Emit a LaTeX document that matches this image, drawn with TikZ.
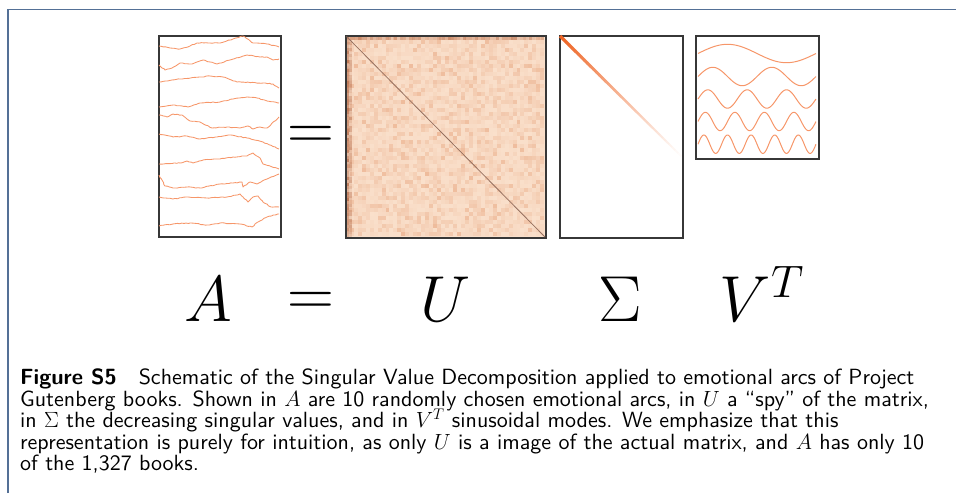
\RequirePackage{fix-cm}
\documentclass[tikz,border=0pt]{standalone}
\usepackage{fontspec}
\newfontfamily\capfont{lmsans10-regular}[Extension=.otf, BoldFont=lmsans10-bold, Ligatures=TeX]
\usetikzlibrary{decorations.pathmorphing}
\definecolor{frameblue}{RGB}{84,112,150}
\definecolor{arccol}{RGB}{246,150,105}
\definecolor{boxgray}{RGB}{55,55,55}
\definecolor{peachbase}{RGB}{250,224,203}
\definecolor{speck}{RGB}{230,160,120}
\definecolor{rust}{RGB}{178,100,64}
\definecolor{diagcol}{RGB}{150,112,95}
\definecolor{sigorange}{RGB}{238,100,35}
\tikzset{
  matbox/.style={draw=boxgray, line width=1.6pt, inner sep=0pt, anchor=north west},
  arcline/.style={arccol, line width=0.85pt, line join=round,
     decorate, decoration={random steps, segment length=2.2pt, amplitude=0.4pt}},
  wavy/.style={arccol, line width=1pt},
  bigmath/.style={font=\fontsize{65}{65}\selectfont, anchor=base, inner sep=0pt},
  capline/.style={anchor=base west, inner sep=0pt, text height=13pt, text depth=3pt,
     font=\fontsize{22}{21.5}\selectfont\capfont},
  framestyle/.style={frameblue, line width=1.5pt}
}
\begin{document}
\begin{tikzpicture}[x=1pt, y=-1pt]
\useasboundingbox (0,0) rectangle (956,493);
\pgfmathsetseed{12}
% frame
\draw[framestyle] (8,493) -- (8,9.5) -- (956,9.5);

% ---------- U texture ----------
\fill[peachbase] (345,35) rectangle (545,237);
\foreach \i in {0,...,49}{
  \foreach \j in {0,...,49}{
    \pgfmathsetmacro\op{0.6*rnd*rnd}
    \fill[speck, opacity=\op] ({345.8+3.97*\i},{35.8+4*\j}) rectangle ++(3.97,4);
  }
}
\foreach \j in {0,...,66}{
  \pgfmathsetmacro\opa{0.3+0.5*rnd}
  \pgfmathsetmacro\opb{0.1+0.4*rnd}
  \fill[rust, opacity=\opa] (346,{36+3*\j}) rectangle ++(3,3);
  \fill[rust, opacity=\opb] (349,{36+3*\j}) rectangle ++(3,3);
}
\foreach \i in {0,...,65}{
  \pgfmathsetmacro\opa{0.15+0.45*rnd}
  \fill[rust, opacity=\opa] ({346+3*\i},36) rectangle ++(3,3.5);
}

% ---------- boxes ----------
\node[matbox, minimum width=122pt, minimum height=201pt] (A) at (158,35) {};
\node[matbox, minimum width=200pt, minimum height=202pt] (U) at (345,35) {};
\node[matbox, minimum width=123pt, minimum height=202pt] (S) at (559,35) {};
\node[matbox, minimum width=123pt, minimum height=123pt] (V) at (695,35) {};

% U diagonal
\draw[diagcol, line width=0.8pt] ([shift={(1.5,1.5)}]U.north west) -- ([shift={(-1.5,-1.5)}]U.south east);

% Sigma diagonal, fading
\foreach \k in {0,...,39}{
  \pgfmathsetmacro\p{100*(1-\k/40)^1.1}
  \pgfmathsetmacro\lw{3.2-1.4*\k/40}
  \draw[sigorange!\p!white, line width=\lw pt] ({560+3.025*\k},{36+3*\k}) -- ++(3.3,3.27);
}

% ---------- A arcs ----------
\draw[arcline] (159,46) -- (170,48) -- (180,49) -- (190,46) -- (197,43) -- (210,43) -- (220,43) -- (233,39) -- (243,36) -- (253,43) -- (267,44) -- (279,47);
\draw[arcline] (159,65) -- (165,70) -- (172,68) -- (180,63) -- (192,64) -- (203,60) -- (210,62) -- (217,64) -- (230,60) -- (247,55) -- (260,57) -- (267,57) -- (273,60) -- (279,59);
\draw[arcline] (159,82) -- (180,79) -- (210,76) -- (223,77) -- (237,82) -- (263,83) -- (273,84) -- (279,88);
\draw[arcline] (159,107) -- (173,105) -- (188,107) -- (200,103) -- (220,102) -- (233,99) -- (247,97) -- (257,98) -- (267,101) -- (279,103);
\draw[arcline] (159,115) -- (167,117) -- (173,114) -- (182,115) -- (190,121) -- (200,122) -- (212,128) -- (227,127) -- (240,128) -- (248,126) -- (253,129) -- (260,127) -- (267,128) -- (279,117);
\draw[arcline] (159,134) -- (173,137) -- (187,136) -- (200,139) -- (217,137) -- (230,135) -- (247,138) -- (263,142) -- (279,149);
\draw[arcline] (159,164) -- (180,163) -- (187,161) -- (193,163) -- (203,160) -- (220,159) -- (233,157) -- (247,156) -- (253,153) -- (260,158) -- (263,164) -- (279,169);
\draw[arcline] (159,175) -- (165,186) -- (173,188) -- (187,187) -- (200,188) -- (220,184) -- (233,183) -- (242,182) -- (243,187) -- (250,182) -- (257,184) -- (267,179) -- (279,174);
\draw[arcline] (159,197) -- (173,199) -- (187,197) -- (207,198) -- (227,197) -- (240,194) -- (243,197) -- (248,202) -- (253,197) -- (258,196) -- (263,202) -- (271,207) -- (279,207);
\draw[arcline] (159,226) -- (173,224) -- (190,223) -- (207,225) -- (220,223) -- (240,224) -- (252,227) -- (258,222) -- (267,217) -- (279,214);

% ---------- V^T sine modes ----------
\foreach \k/\c in {1/53.5, 2/76.5, 3/99, 4/121.5, 5/144.2}{
  \draw[wavy] plot[domain=0:1, samples=160, smooth] ({698+118*\x},{\c-9.2*sin(360*\k*\x)});
}

% equals between A and U
\node[bigmath] (eqtop) at (311,149.6) {$=$};

% ---------- labels ----------
\node[bigmath] (lA) at (208.6,321.5) {$A$};
\node[bigmath] (lEq) at (310.5,315) {$=$};
\node[bigmath] (lU) at (446,321) {$U$};
\node[bigmath] (lS) at (620,321) {$\Sigma$};
\node[bigmath] (lV) at (762,321) {$V^T$};

% ---------- caption ----------
\node[capline] (c1) at (20,384.7) {\textbf{Figure S5}\quad Schematic of the Singular Value Decomposition applied to emotional arcs of Project};
\node[capline] (c2) at (20,406.3) {Gutenberg books. Shown in $A$ are 10 randomly chosen emotional arcs, in $U$ a “spy” of the matrix,};
\node[capline] (c3) at (20,427.6) {in $\Sigma$ the decreasing singular values, and in $V^T$ sinusoidal modes. We emphasize that this};
\node[capline] (c4) at (20,449.1) {representation is purely for intuition, as only $U$ is a image of the actual matrix, and $A$ has only 10};
\node[capline] (c5) at (20,470.4) {of the 1,327 books.};
\end{tikzpicture}
\end{document}
